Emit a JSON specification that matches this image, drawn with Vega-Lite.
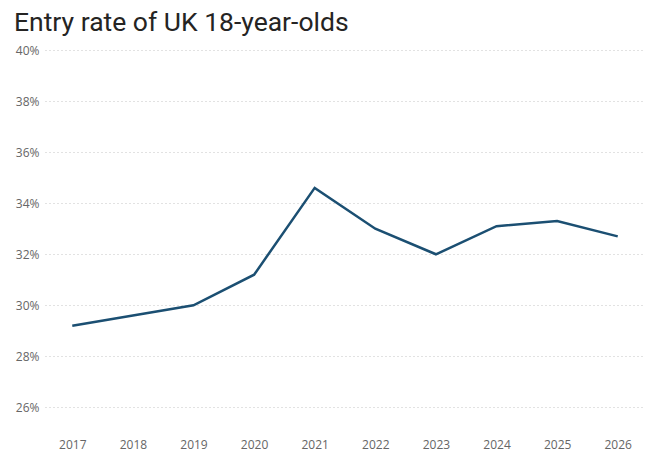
{
  "$schema": "https://vega.github.io/schema/vega-lite/v6.json",
  "autosize": "none",
  "width": 600,
  "height": 383,
  "padding": {"left": 45, "top": 50, "right": 18, "bottom": 38},
  "background": "white",
  "title": {
    "text": "Entry rate of UK 18-year-olds",
    "anchor": "start",
    "frame": "group",
    "dx": -31,
    "offset": 8,
    "font": "Roboto",
    "fontSize": 26.5,
    "fontWeight": "normal",
    "color": "#252423"
  },
  "data": {
    "values": [
      {"year": "2017", "rate": 0.292},
      {"year": "2018", "rate": 0.296},
      {"year": "2019", "rate": 0.300},
      {"year": "2020", "rate": 0.312},
      {"year": "2021", "rate": 0.346},
      {"year": "2022", "rate": 0.330},
      {"year": "2023", "rate": 0.320},
      {"year": "2024", "rate": 0.331},
      {"year": "2025", "rate": 0.333},
      {"year": "2026", "rate": 0.327}
    ]
  },
  "mark": {"type": "line", "color": "#1b4f72", "strokeWidth": 2.5},
  "encoding": {
    "x": {
      "field": "year",
      "type": "ordinal",
      "scale": {"type": "point", "padding": 0.45},
      "axis": {
        "title": null,
        "labelAngle": 0,
        "domain": false,
        "ticks": false,
        "grid": false,
        "labelFont": "Open Sans",
        "labelFontSize": 12,
        "labelColor": "#666666",
        "labelPadding": 6
      }
    },
    "y": {
      "field": "rate",
      "type": "quantitative",
      "scale": {"domain": [0.25, 0.40], "nice": false, "zero": false},
      "axis": {
        "title": null,
        "format": ".0%",
        "values": [0.26, 0.28, 0.30, 0.32, 0.34, 0.36, 0.38, 0.40],
        "domain": false,
        "ticks": false,
        "grid": true,
        "gridColor": "#c4c4c4",
        "gridDash": [1, 3],
        "gridWidth": 1,
        "labelFont": "Open Sans",
        "labelFontSize": 12,
        "labelColor": "#666666",
        "labelPadding": 6
      }
    }
  },
  "config": {"view": {"stroke": null}}
}
